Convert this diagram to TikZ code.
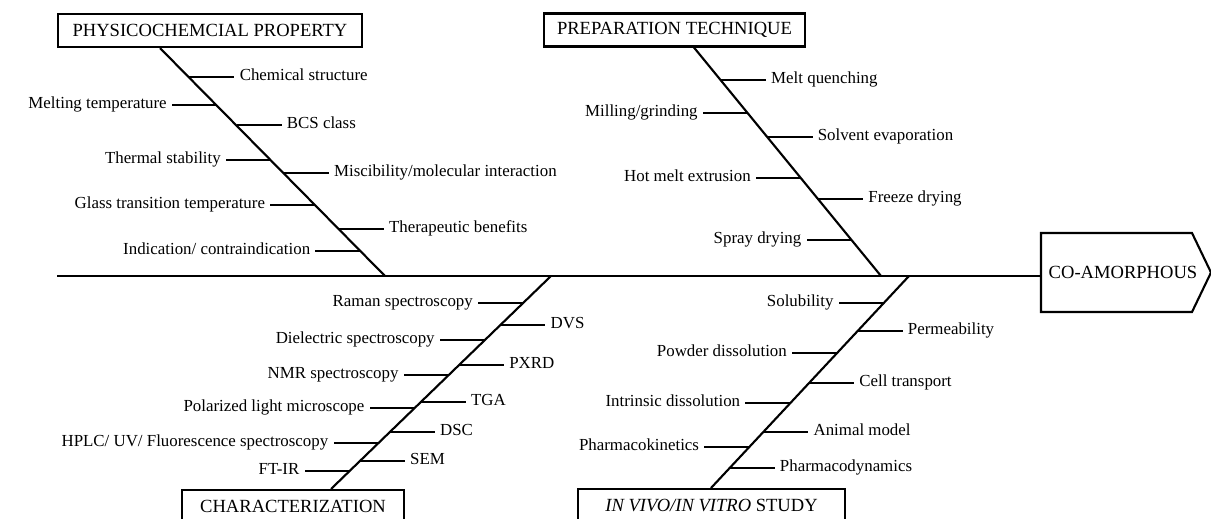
\documentclass[tikz,border=0pt]{standalone}
\usepackage{fontspec}
\setmainfont{Liberation Serif}
\usetikzlibrary{calc}

\begin{document}
\begin{tikzpicture}[x=0.025cm,y=-0.025cm,line width=1.5pt,
  cat/.style={draw,minimum height=0.825cm,inner sep=0pt,font=\fontsize{13.2}{15}\selectfont},
  lbl/.style={inner xsep=3pt,inner ysep=0pt,text height=1.6ex,text depth=.4ex,font=\fontsize{12}{14}\selectfont}]
\clip (0,0) rectangle (1211,519);
% categories
\node[cat,minimum width=7.6cm] (phy) at (210,30.5) {PHYSICOCHEMCIAL PROPERTY};
\node[cat,minimum width=6.525cm] (prep) at (674.5,30) {PREPARATION TECHNIQUE};
\node[cat,minimum width=5.55cm,anchor=north] (char) at (293,489) {CHARACTERIZATION};
\node[cat,minimum width=6.675cm,anchor=north] (vivo) at (711.5,488) {\textit{IN VIVO/IN VITRO} STUDY};
% head
\node[font=\fontsize{13.2}{15}\selectfont] (head) at (1123,272.5) {CO-AMORPHOUS};
\draw (1041,233) -- (1192,233) -- (1211,272.5) -- (1192,312) -- (1041,312) -- cycle;
% spine and bones
\coordinate (tail) at (57,276);
\coordinate (nose) at (1041,276);
\draw[line width=1.8pt] (tail) -- (nose);
\draw (phy.south -| 160,0) -- (385,276);
\draw (prep.south -| 694,0) -- (881,276);
\draw (551,276) -- (char.north -| 331,0);
\draw (909,276) -- (vivo.north -| 711,0);
% ribs
\foreach \y/\d/\a/\t [count=\i] in {77/45/west/Chemical structure,105/-45/east/Melting temperature,
  125/45/west/BCS class,160/-45/east/Thermal stability,173/45/west/{Miscibility/molecular interaction},
  205/-45/east/Glass transition temperature,229/45/west/Therapeutic benefits,
  251/-45/east/{Indication/ contraindication}}
 {\pgfmathsetmacro\bx{160+(\y-47)*(225/229)}
  \coordinate (phyk\i) at (\bx,\y);
  \node[lbl,anchor=\a] (phyl\i) at (\bx+\d,\y) {\t};
  \draw (phyk\i) -- (phyl\i.\a);}
\foreach \y/\d/\a/\t [count=\i] in {80/45/west/Melt quenching,113/-45/east/{Milling/grinding},
  137/45/west/Solvent evaporation,178/-45/east/Hot melt extrusion,199/45/west/Freeze drying,
  240/-45/east/Spray drying}
 {\pgfmathsetmacro\bx{694+(\y-47)*(187/229)}
  \coordinate (prepk\i) at (\bx,\y);
  \node[lbl,anchor=\a] (prepl\i) at (\bx+\d,\y) {\t};
  \draw (prepk\i) -- (prepl\i.\a);}
\foreach \y/\d/\a/\t [count=\i] in {303/-45/east/Raman spectroscopy,325/45/west/DVS,
  340/-45/east/Dielectric spectroscopy,365/45/west/PXRD,375/-45/east/NMR spectroscopy,
  402/45/west/TGA,408/-45/east/Polarized light microscope,432/45/west/DSC,
  443/-45/east/{HPLC/ UV/ Fluorescence spectroscopy},461/45/west/SEM,471/-45/east/FT-IR}
 {\pgfmathsetmacro\bx{551-(\y-276)*(220/213)}
  \coordinate (chark\i) at (\bx,\y);
  \node[lbl,anchor=\a] (charl\i) at (\bx+\d,\y) {\t};
  \draw (chark\i) -- (charl\i.\a);}
\foreach \y/\d/\a/\t [count=\i] in {303/-45/east/Solubility,331/45/west/Permeability,
  353/-45/east/Powder dissolution,383/45/west/Cell transport,403/-45/east/Intrinsic dissolution,
  432/45/west/Animal model,447/-45/east/Pharmacokinetics,468/45/west/Pharmacodynamics}
 {\pgfmathsetmacro\bx{909-(\y-276)*(198/212)}
  \coordinate (vivok\i) at (\bx,\y);
  \node[lbl,anchor=\a] (vivol\i) at (\bx+\d,\y) {\t};
  \draw (vivok\i) -- (vivol\i.\a);}
\end{tikzpicture}
\end{document}
